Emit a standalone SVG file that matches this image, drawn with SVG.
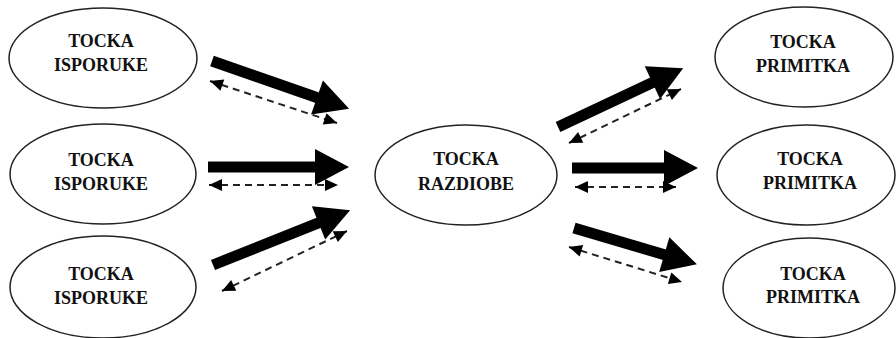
<svg xmlns="http://www.w3.org/2000/svg" width="896" height="338" viewBox="0 0 896 338">
<style>
.node ellipse{fill:#fff;stroke:#222;stroke-width:1.5}
.node text{font-family:"Liberation Serif","Times New Roman",serif;font-weight:bold;font-size:18px;fill:#111;text-anchor:middle}
.thick{stroke:#000;stroke-width:11;fill:none;marker-end:url(#bigHead)}
.dash{stroke:#222;stroke-width:2;stroke-dasharray:7 5;fill:none;marker-start:url(#smallHead);marker-end:url(#smallHead)}
</style>
<defs>
<marker id="bigHead" markerUnits="userSpaceOnUse" markerWidth="34" markerHeight="36" refX="2" refY="18" orient="auto" overflow="visible">
<path d="M0,0 L34,18 L0,36 Z" fill="#000"/>
</marker>
<marker id="smallHead" markerUnits="userSpaceOnUse" markerWidth="13" markerHeight="12" refX="13" refY="6" orient="auto-start-reverse" overflow="visible">
<path d="M0,0 L13,6 L0,12 Z" fill="#000"/>
</marker>
</defs>
<rect width="896" height="338" fill="#fff"/>
<g id="src1" class="node"><ellipse cx="103" cy="58" rx="94" ry="50"/><text x="101" y="47">TOCKA</text><text x="101" y="71">ISPORUKE</text></g>
<g id="src2" class="node"><ellipse cx="103" cy="174" rx="93" ry="50"/><text x="101" y="166">TOCKA</text><text x="101" y="190">ISPORUKE</text></g>
<g id="src3" class="node"><ellipse cx="103" cy="287" rx="93" ry="51"/><text x="101" y="280">TOCKA</text><text x="101" y="304">ISPORUKE</text></g>
<g id="hub" class="node"><ellipse cx="466" cy="175" rx="91" ry="50"/><text x="466" y="165">TOCKA</text><text x="466" y="190">RAZDIOBE</text></g>
<g id="dst1" class="node"><ellipse cx="804" cy="57" rx="89" ry="50"/><text x="803" y="48">TOCKA</text><text x="803" y="72">PRIMITKA</text></g>
<g id="dst2" class="node"><ellipse cx="806" cy="175" rx="89" ry="50"/><text x="810" y="165">TOCKA</text><text x="810" y="189">PRIMITKA</text></g>
<g id="dst3" class="node"><ellipse cx="809" cy="288" rx="86" ry="50"/><text x="813" y="280">TOCKA</text><text x="813" y="303">PRIMITKA</text></g>
<g id="connectors">
<line class="thick" x1="212" y1="61" x2="318.9" y2="98.2"/>
<line class="thick" x1="208" y1="167" x2="317" y2="167"/>
<line class="thick" x1="213" y1="265" x2="320.4" y2="222.1"/>
<line class="thick" x1="558" y1="127" x2="654.2" y2="81.8"/>
<line class="thick" x1="572" y1="168" x2="666" y2="168"/>
<line class="thick" x1="574" y1="228" x2="666.2" y2="255.2"/>
<line class="dash" x1="210" y1="81" x2="337" y2="123"/>
<line class="dash" x1="209" y1="185" x2="338" y2="185"/>
<line class="dash" x1="222" y1="291" x2="347" y2="231"/>
<line class="dash" x1="569" y1="143" x2="681" y2="89"/>
<line class="dash" x1="575" y1="187" x2="676" y2="187"/>
<line class="dash" x1="569" y1="247" x2="682" y2="282"/>
</g>
</svg>
